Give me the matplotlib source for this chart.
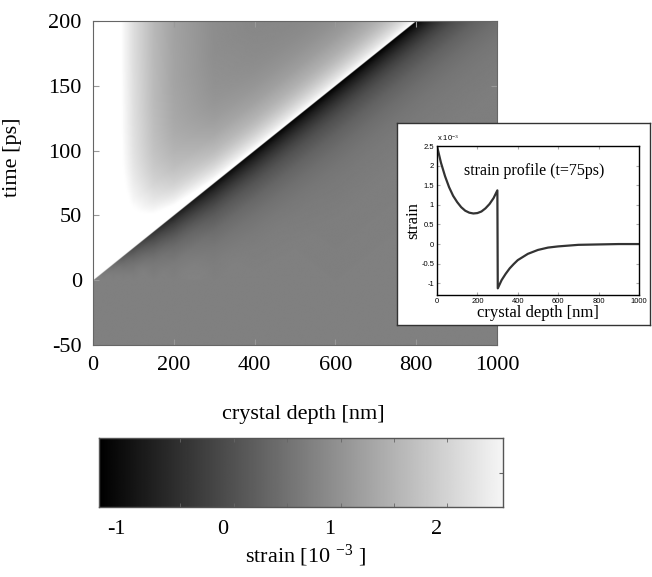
import numpy as np
import matplotlib
matplotlib.use("Agg")
import matplotlib.pyplot as plt

plt.rcParams['font.family'] = ['Liberation Serif', 'DejaVu Serif']
plt.rcParams['mathtext.fontset'] = 'custom'
plt.rcParams['mathtext.rm'] = 'Liberation Serif'
plt.rcParams['mathtext.it'] = 'Liberation Serif:italic'
plt.rcParams['axes.unicode_minus'] = False

#### strain profile at t=75ps (inset), strain in 10^-3
profile_depth = [0, 20, 40, 60, 80, 100, 120, 140, 160, 180, 200, 220, 240, 260, 280, 299,
                 301, 320, 340, 360, 380, 400, 450, 500, 550, 600, 700, 800, 900, 1000]
profile_strain = [2.50, 2.07, 1.73, 1.45, 1.23, 1.07, 0.94, 0.85, 0.80, 0.78, 0.79, 0.83, 0.91, 1.02, 1.17, 1.37,
                  -1.13, -0.92, -0.76, -0.62, -0.51, -0.41, -0.25, -0.15, -0.09, -0.06, -0.02, -0.01, 0.0, 0.0]

#### map ingredients: static near-surface strain and travelling pulse shape
surface_depth = [0, 25, 50, 75, 100, 150, 200, 300, 400, 500, 600, 1000]
surface_strain = [2.50, 1.95, 1.52, 1.18, 0.92, 0.56, 0.34, 0.12, 0.05, 0.02, 0.0, 0.0]
pulse_offset = [-1200, -600, -500, -400, -300, -250, -200, -150, -100, -75, -50, -25, -0.5,
                0.5, 25, 50, 75, 100, 150, 200, 250, 300, 400, 500, 600, 1200]
pulse_strain = [0.0, 0.0, 0.01, 0.02, 0.06, 0.10, 0.17, 0.28, 0.46, 0.59, 0.76, 0.97, 1.25,
                -1.25, -0.97, -0.76, -0.59, -0.46, -0.28, -0.17, -0.10, -0.06, -0.02, -0.01, 0.0, 0.0]
sound_speed = 4.0  # nm/ps, front reaches 800 nm at 200 ps

depth_range = (0, 1000)
time_range = (-50, 200)
map_limits = (-1.25, 1.25)
cbar_range = (-1.16, 2.62)
cbar_ticks = [-1, 0, 1, 2]

depth = np.linspace(depth_range[0], depth_range[1], 1001)
time = np.linspace(time_range[0], time_range[1], 1001)
Z, T = np.meshgrid(depth, time)
strain = (np.interp(Z, surface_depth, surface_strain)
          + np.interp(Z + sound_speed * T, pulse_offset, pulse_strain)
          + np.interp(Z - sound_speed * T, pulse_offset, pulse_strain))
strain[T < 0] = 0.0

fig = plt.figure(figsize=(6.52, 5.77), dpi=100)

#### main map
ax1 = fig.add_axes([0.1426, 0.4021, 0.6196, 0.5615])
ax1.imshow(strain, origin='lower', cmap='gray', vmin=map_limits[0], vmax=map_limits[1],
           extent=[depth_range[0], depth_range[1], time_range[0], time_range[1]],
           aspect='auto', interpolation='bilinear')
ax1.set_xticks([0, 200, 400, 600, 800, 1000])
ax1.set_yticks([-50, 0, 50, 100, 150, 200])
ax1.tick_params(direction='in', length=4, color='#999999', top=True, right=True,
                labelsize=16, pad=8)
for s in ax1.spines.values():
    s.set_color('#666666')
    s.set_linewidth(0.8)
ax1.set_xlabel("crystal depth [nm]", fontsize=16)
ax1.set_ylabel("time [ps]", fontsize=16)
ax1.xaxis.set_label_coords(0.52, -0.185)
ax1.yaxis.set_label_coords(-0.176, 0.58)

#### inset frame + profile
frame = fig.add_axes([0.6089, 0.4367, 0.388, 0.3501])
frame.set_xticks([])
frame.set_yticks([])
frame.set_facecolor('white')
for s in frame.spines.values():
    s.set_color('#333333')
    s.set_linewidth(1.0)

ax2 = fig.add_axes([0.6702, 0.4887, 0.3098, 0.2582])
ax2.plot(profile_depth, profile_strain, color='#333333', lw=1.6)
ax2.set_xlim(0, 1000)
ax2.set_ylim(-1.3, 2.5)
ax2.set_xticks([0, 200, 400, 600, 800, 1000])
ax2.set_yticks([-1, -0.5, 0, 0.5, 1, 1.5, 2, 2.5])
ax2.set_yticklabels(["-1", "-0.5", "0", "0.5", "1", "1.5", "2", "2.5"])
ax2.tick_params(direction='in', length=2, top=True, right=True, labelsize=5.5, pad=2,
                color='#aaaaaa')
for lab in ax2.get_xticklabels() + ax2.get_yticklabels():
    lab.set_fontfamily('Liberation Sans')
for s in ax2.spines.values():
    s.set_linewidth(1.0)
ax2.set_xlabel("crystal depth [nm]", fontsize=12, labelpad=0)
ax2.set_ylabel("strain", fontsize=12, labelpad=0)
ax2.text(0.0, 1.02, r"x 10$^{-3}$", transform=ax2.transAxes, fontsize=5.5,
         fontfamily='Liberation Sans', va='bottom')
ax2.text(0.48, 0.83, "strain profile (t=75ps)", transform=ax2.transAxes, fontsize=11.5,
         ha='center', va='center')

#### colorbar
ax3 = fig.add_axes([0.1518, 0.1213, 0.6196, 0.1196])
grad = np.linspace(cbar_range[0], cbar_range[1], 512).reshape(1, -1)
ax3.imshow(grad, cmap='gray', vmin=cbar_range[0], vmax=cbar_range[1] + 0.15,
           extent=[cbar_range[0], cbar_range[1], 0, 1], aspect='auto')
ax3.set_xlim(cbar_range)
ax3.set_xticks(cbar_ticks)
ax3.set_xticklabels([str(v) for v in cbar_ticks])
ax3.set_xticks([-0.4, 0.1, 0.6, 1.1, 1.6, 2.1], minor=True)
ax3.set_yticks([0.5])
ax3.set_yticklabels([])
ax3.tick_params(axis='x', which='major', length=0, labelsize=16, pad=9)
ax3.tick_params(axis='x', which='minor', direction='in', length=3, top=True, color='#666666')
ax3.tick_params(axis='y', direction='in', length=3, left=False, right=True, color='#666666')
for s in ax3.spines.values():
    s.set_color('#555555')
    s.set_linewidth(1.0)
fig.text(305 / 652, 1 - 556 / 577, r"strain [10 $^{\mathrm{-3}}$ ]", fontsize=16, ha='center', va='center')

plt.savefig("out.png", dpi=100)
plt.close()
